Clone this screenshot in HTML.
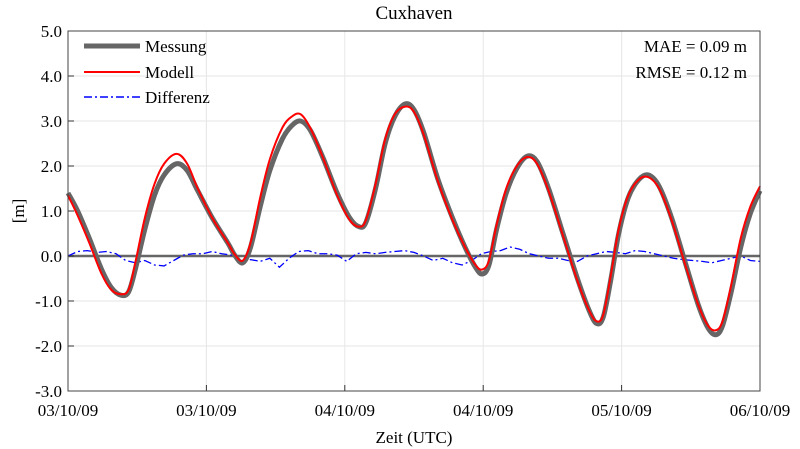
<!DOCTYPE html>
<html><head><meta charset="utf-8"><style>
body{margin:0;background:#fff;}
svg{display:block;font-family:"Liberation Serif",serif;}
</style></head><body>
<svg id="chart" width="800" height="449" viewBox="0 0 800 449" xmlns="http://www.w3.org/2000/svg">
<text x="414" y="19" font-size="19" text-anchor="middle">Cuxhaven</text>
<g id="grid"></g><g id="series"></g><g id="axes"></g>
<text x="24" y="211" font-size="17" text-anchor="middle" transform="rotate(-90 24 211)">[m]</text>
<text x="414" y="443" font-size="17" text-anchor="middle">Zeit (UTC)</text>
<g>
<line x1="84" y1="46" x2="140" y2="46" stroke="#666" stroke-width="5"/>
<text x="145" y="52" font-size="17">Messung</text>
<line x1="84" y1="72" x2="140" y2="72" stroke="#f00" stroke-width="2"/>
<text x="145" y="78" font-size="17">Modell</text>
<line x1="84" y1="97" x2="140" y2="97" stroke="#00f" stroke-width="1.5" stroke-dasharray="8,3,2,3"/>
<text x="145" y="103" font-size="17">Differenz</text>
</g>
<text x="747" y="52" font-size="17" text-anchor="end">MAE = 0.09 m</text>
<text x="747" y="78" font-size="17" text-anchor="end">RMSE = 0.12 m</text>
</svg>
<script>
const hours=[0,1,2.2,3.5,4.5,5.5,6.3,7,8,9,10,11.3,12.4,13.5,15,16.6,17.4,18.2,19,20,21,22.3,23.3,24.2,25.2,26.5,28,29.3,30.3,31,32,33,34,35.1,36,37,38.5,40,41.3,42.4,43.1,43.8,44.6,45.6,46.7,47.8,48.8,50,51.5,53,54.2,55,55.7,56.5,57.3,58.3,59.4,60.4,61.5,62.8,64.3,65.6,66.6,67.4,68.1,69,70,71,72];
const messung=[1.4,1.0,0.4,-0.3,-0.7,-0.87,-0.8,-0.3,0.6,1.35,1.8,2.05,1.9,1.45,0.85,0.3,0,-0.15,0.2,1.1,1.9,2.6,2.9,3.0,2.8,2.2,1.4,0.85,0.65,0.75,1.5,2.5,3.1,3.38,3.25,2.75,1.7,0.85,0.2,-0.25,-0.4,-0.2,0.6,1.4,1.95,2.22,2.1,1.5,0.5,-0.5,-1.2,-1.5,-1.35,-0.5,0.5,1.3,1.7,1.8,1.55,0.85,-0.2,-1.1,-1.6,-1.75,-1.55,-0.8,0.2,0.95,1.45];
const modell=[1.35,0.9,0.3,-0.4,-0.75,-0.85,-0.75,-0.15,0.85,1.6,2.05,2.27,2.05,1.5,0.85,0.3,0.02,-0.1,0.3,1.3,2.15,2.85,3.1,3.15,2.85,2.2,1.35,0.8,0.65,0.8,1.6,2.6,3.15,3.32,3.2,2.7,1.65,0.8,0.2,-0.2,-0.3,-0.1,0.7,1.5,2.0,2.2,2.05,1.45,0.45,-0.55,-1.2,-1.45,-1.3,-0.4,0.6,1.35,1.7,1.75,1.5,0.8,-0.25,-1.1,-1.55,-1.65,-1.45,-0.65,0.4,1.1,1.55];
const diffHours=[0,1,2,3,4,5,6,7,8,9,10,11,12,13,14,15,16,17,18,19,20,21,22,23,24,25,26,27,28,29,30,31,32,33,34,35,36,37,38,39,40,41,42,43,44,45,46,47,48,49,50,51,52,53,54,55,56,57,58,59,60,61,62,63,64,65,66,67,68,69,70,71,72];
const differenz=[0,0.1,0.12,0.08,0.1,0.05,-0.1,-0.15,-0.1,-0.2,-0.22,-0.1,0.02,0.05,0.05,0.1,0.05,0.02,-0.1,-0.08,-0.12,-0.05,-0.25,-0.05,0.1,0.12,0.05,0.05,0.02,-0.12,0.05,0.08,0.05,0.08,0.1,0.12,0.08,0,-0.1,-0.05,-0.15,-0.2,-0.1,0.05,0.1,0.12,0.2,0.15,0.05,0,-0.05,-0.05,-0.1,-0.12,0,0.05,0.1,0.08,0.05,0.12,0.1,0.05,0,-0.05,-0.08,-0.1,-0.12,-0.15,-0.1,-0.05,0,-0.1,-0.12];
const yTicks=[5,4,3,2,1,0,-1,-2,-3];
const xTickLabels=["03/10/09","03/10/09","04/10/09","04/10/09","05/10/09","06/10/09"];
const X0=68,X1=760,Y0=31,Y1=391,HMAX=72,YMIN=-3,YMAX=5;
const xs=h=>X0+(h/HMAX)*(X1-X0);
const ys=v=>Y1-(v-YMIN)/(YMAX-YMIN)*(Y1-Y0);
const NS="http://www.w3.org/2000/svg";
function mk(t,a,p){const e=document.createElementNS(NS,t);for(const k in a)e.setAttribute(k,a[k]);p.appendChild(e);return e;}
const grid=document.getElementById('grid'),ser=document.getElementById('series'),ax=document.getElementById('axes');
yTicks.forEach(v=>{const l=mk('line',{x1:X0,x2:X1,y1:ys(v),y2:ys(v),stroke:'#e6e6e6','stroke-width':1},grid);


const tk=mk('line',{x1:X0,x2:X0+6,y1:ys(v),y2:ys(v),stroke:'#333'},ax);


const t=mk('text',{x:X0-6,y:ys(v)+6,'font-size':17,'text-anchor':'end'},ax);t.textContent=v.toFixed(1);

});
xTickLabels.forEach((s,i)=>{const x=X0+i*(X1-X0)/(xTickLabels.length-1);
const l=mk('line',{x1:x,x2:x,y1:Y0,y2:Y1,stroke:'#e6e6e6'},grid);


const tk=mk('line',{x1:x,x2:x,y1:Y1,y2:Y1-6,stroke:'#333'},ax);


const t=mk('text',{x:x,y:Y1+25,'font-size':17,'text-anchor':'middle'},ax);t.textContent=s;

});
const box=mk('rect',{x:X0,y:Y0,width:X1-X0,height:Y1-Y0,fill:'none',stroke:'#444','stroke-width':1},ax);


function smooth(hs,vs){const p=hs.map((h,i)=>[xs(h),ys(vs[i])]);let d='M'+p[0][0]+','+p[0][1];
for(let i=0;i<p.length-1;i++){const a=p[Math.max(i-1,0)],b=p[i],c=p[i+1],e=p[Math.min(i+2,p.length-1)];
d+=` C${b[0]+(c[0]-a[0])/6},${b[1]+(c[1]-a[1])/6} ${c[0]-(e[0]-b[0])/6},${c[1]-(e[1]-b[1])/6} ${c[0]},${c[1]}`;}return d;}
const zl=mk('line',{x1:X0,x2:X1,y1:ys(0),y2:ys(0),stroke:'#666','stroke-width':2.5},ser);


const dl=mk('polyline',{points:diffHours.map((h,i)=>xs(h)+','+ys(differenz[i])).join(' '),fill:'none',stroke:'#00f','stroke-width':1.3,'stroke-dasharray':'8,3,2,3'},ser);


const ml=mk('path',{d:smooth(hours,messung),fill:'none',stroke:'#666','stroke-width':5,'stroke-linejoin':'round'},ser);


const rl=mk('path',{d:smooth(hours,modell),fill:'none',stroke:'#f00','stroke-width':2,'stroke-linejoin':'round'},ser);


</script>
</body></html>
